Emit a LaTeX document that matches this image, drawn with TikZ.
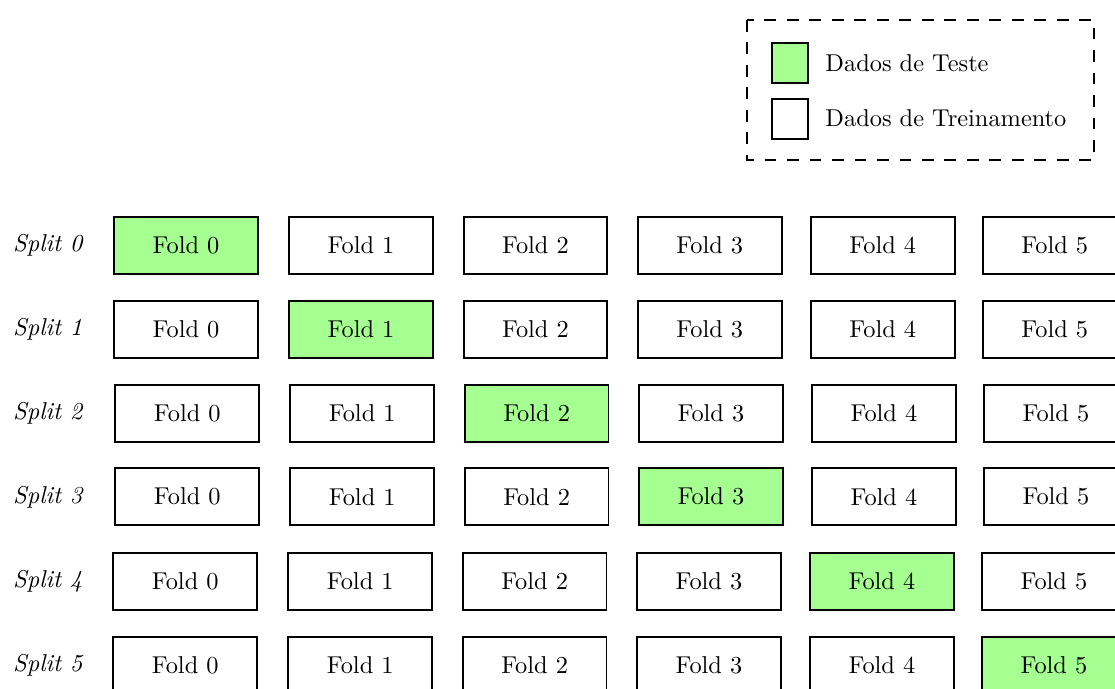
\documentclass[tikz,border=0pt]{standalone}
\definecolor{testgreen}{RGB}{165,255,145}
\tikzset{
  fold/.style={draw=black, line width=0.8pt, minimum width=60.7pt, minimum height=24.1pt, inner sep=0pt},
  splitlabel/.style={anchor=west, inner sep=0pt, font=\itshape},
  legbox/.style={draw=black, line width=0.8pt, dash pattern=on 5pt off 4.5pt},
  legsq/.style={draw=black, line width=0.8pt, minimum width=15.2pt, minimum height=16.8pt, inner sep=0pt},
  legtext/.style={anchor=base west, inner sep=0pt},
}
\begin{document}
\begin{tikzpicture}[x=0.4226pt,y=-0.4226pt]
\fontsize{10.3}{12.4}\selectfont
\useasboundingbox (0,0) rectangle (1115,689);
\clip (0,0) rectangle (1115,689);
% legend
\draw[legbox] (747,20) rectangle (1094,159.7);
\node[legsq, fill=testgreen] (lt) at (790,63.2) {};
\node[legsq, fill=white] (lr) at (790,119.2) {};
\node[legtext] (ltt) at (825,71) {Dados de Teste};
\node[legtext] (lrt) at (825,126) {Dados de Treinamento};
% grid
\foreach \r/\yc/\dx in {0/245.3/0, 1/329.5/0, 2/413.5/1.2, 3/496.8/1.2, 4/581.5/-0.8, 5/665.2/-0.8} {
  \node[splitlabel] (s\r) at (12.7,\yc) {Split \r};
  \foreach \c/\xc in {0/186.05,1/361.05,2/535.45,3/709.75,4/882.75,5/1054.75} {
    \ifnum\r=\c \def\fc{testgreen}\else\def\fc{white}\fi
    \node[fold, fill=\fc] (f\r\c) at (\xc+\dx,\yc) {Fold \c};
  }
}
\end{tikzpicture}
\end{document}
